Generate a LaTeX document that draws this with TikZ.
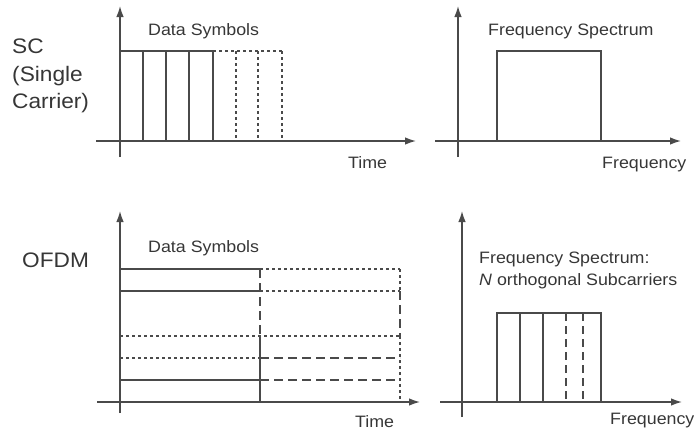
\documentclass[tikz,border=0pt]{standalone}
\usepackage{fontspec}
\setmainfont[FakeStretch=1.08]{Liberation Sans}
\usetikzlibrary{arrows.meta}
\definecolor{ink}{HTML}{4A4A4A}
\definecolor{txt}{HTML}{363636}
\begin{document}
\begin{tikzpicture}[x=1pt,y=-1pt,
  axis/.style={draw=ink, line width=1.4pt, -{Latex[length=11pt,width=7.5pt]}},
  sig/.style={draw=ink, line width=1.2pt},
  dots/.style={sig, dash pattern=on 3pt off 3pt},
  ldash/.style={sig, dash pattern=on 9pt off 5pt},
  lbl/.style={text=txt, font=\fontsize{16.5}{20}\selectfont, inner sep=0pt, anchor=base west},
  side/.style={text=txt, font=\fontsize{21}{25}\selectfont, inner sep=0pt, anchor=base west}]
\useasboundingbox (0,0) rectangle (694,432);

% ---------- row labels ----------
\node[side] (sc1) at (12,53) {SC};
\node[side] (sc2) at (12,81) {(Single};
\node[side] (sc3) at (12,108) {Carrier)};
\node[side] (ofdm) at (22,267) {OFDM};

% ---------- SC: time domain ----------
\coordinate (t1x0) at (96,141);  \coordinate (t1x1) at (416,141);
\coordinate (t1y0) at (120,157); \coordinate (t1y1) at (120,6);
\draw[axis] (t1x0) -- (t1x1);
\draw[axis] (t1y0) -- (t1y1);
\draw[sig] (120,51) -- (213,51);
\foreach \x in {143,166,189,213} \draw[sig] (\x,141) -- (\x,51);
\draw[dots] (213,51) -- (282,51);
\foreach \x in {236,258,282} \draw[dots] (\x,51) -- (\x,141);
\node[lbl] (ds1) at (148,35) {Data Symbols};
\node[lbl] (time1) at (348,168) {Time};

% ---------- SC: frequency domain ----------
\coordinate (f1x0) at (435,141); \coordinate (f1x1) at (681,141);
\coordinate (f1y0) at (458,157); \coordinate (f1y1) at (458,6);
\draw[axis] (f1x0) -- (f1x1);
\draw[axis] (f1y0) -- (f1y1);
\draw[sig] (497,141) -- (497,51) -- (601,51) -- (601,141);
\node[lbl] (fs1) at (488,35) {Frequency Spectrum};
\node[lbl] (freq1) at (602,168) {Frequency};

% ---------- OFDM: time domain ----------
\coordinate (t2x0) at (97,402);  \coordinate (t2x1) at (420,402);
\coordinate (t2y0) at (120,413); \coordinate (t2y1) at (120,211);
\draw[axis] (t2x0) -- (t2x1);
\draw[axis] (t2y0) -- (t2y1);
% first symbol
\foreach \y in {269,291,380} \draw[sig] (120,\y) -- (260,\y);
\draw[dots] (120,336) -- (400,336);
\draw[dots] (120,358) -- (260,358);
% second symbol
\foreach \y in {269,291} \draw[dots] (260,\y) -- (400,\y);
\foreach \y in {358,380} \draw[ldash] (260,\y) -- (400,\y);
\draw[ldash] (260,269) -- (260,336);
\draw[sig] (260,336) -- (260,402);
\draw[dots] (400,269) -- (400,291);
\draw[ldash] (400,291) -- (400,336);
\draw[dots] (400,336) -- (400,402);
\node[lbl] (ds2) at (148,252) {Data Symbols};
\node[lbl] (time2) at (355,427) {Time};

% ---------- OFDM: frequency domain ----------
\coordinate (f2x0) at (440,402); \coordinate (f2x1) at (682,402);
\coordinate (f2y0) at (462,417); \coordinate (f2y1) at (462,211);
\draw[axis] (f2x0) -- (f2x1);
\draw[axis] (f2y0) -- (f2y1);
\draw[sig] (497,402) -- (497,313) -- (601,313) -- (601,402);
\foreach \x in {520,543} \draw[sig] (\x,313) -- (\x,402);
\foreach \x in {566,583} \draw[sig, dash pattern=on 8pt off 5pt] (\x,313) -- (\x,402);
\node[lbl] (fs2) at (479,263) {Frequency Spectrum:};
\node[lbl] (fs3) at (479,285) {\textit{N} orthogonal Subcarriers};
\node[lbl] (freq2) at (610,424) {Frequency};
\end{tikzpicture}
\end{document}
